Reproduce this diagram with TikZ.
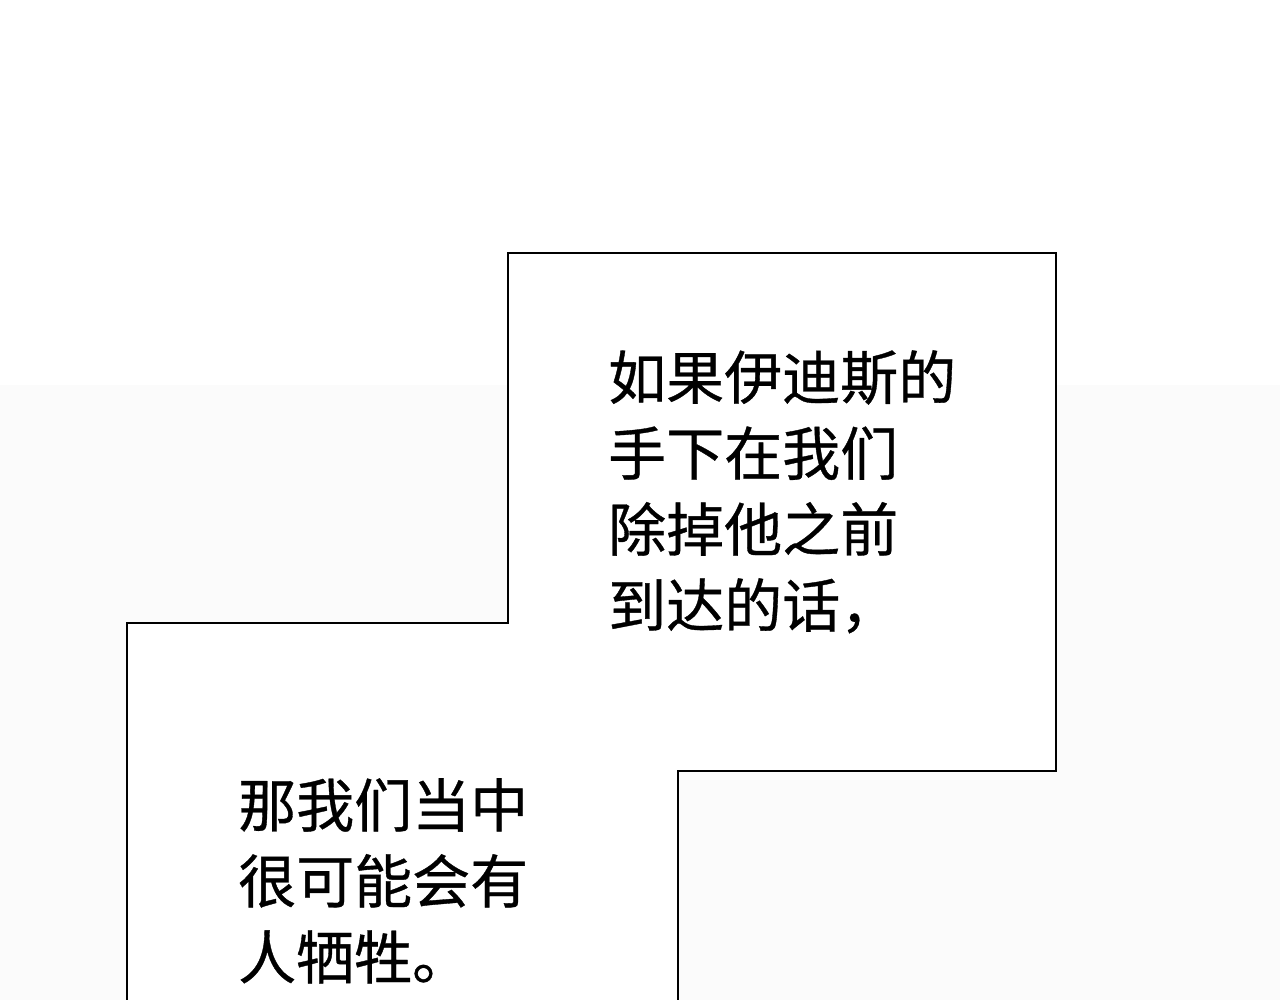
\documentclass[tikz,border=0pt]{standalone}
\usepackage{fontspec}
\newfontfamily\cjk[FakeBold=0.6]{Noto Sans CJK SC}
\begin{document}
\begin{tikzpicture}[x=1pt,y=-1pt,
  txt/.style={anchor=north west,align=left,font=\cjk\fontsize{58}{76}\selectfont,inner sep=0pt}]
\useasboundingbox (0,0) rectangle (1280,1000);
\fill[white] (0,0) rectangle (1280,385);
\fill[black!1.5] (0,385) rectangle (1280,1000);
\draw[line width=2pt,fill=white] (127,1010) -- (127,623) -- (508,623) -- (508,253) -- (1056,253) -- (1056,771) -- (678,771) -- (678,1010);
\node[txt] (t1) at (608,350) {如果伊迪斯的\\手下在我们\\除掉他之前\\到达的话，};
\node[txt] (t2) at (238,778) {那我们当中\\很可能会有\\人牺牲。};
\end{tikzpicture}
\end{document}
